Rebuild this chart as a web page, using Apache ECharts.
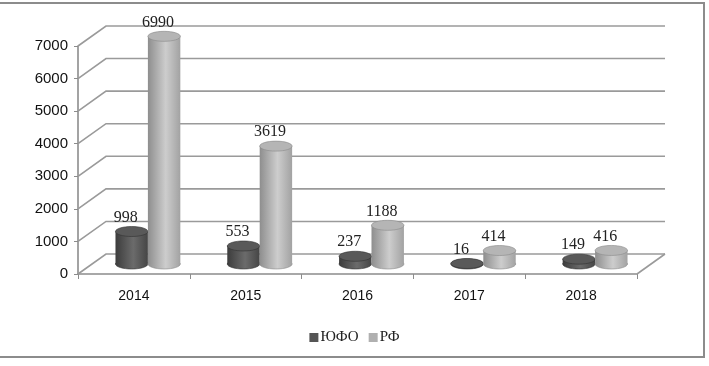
<!DOCTYPE html>
<html>
<head>
<meta charset="utf-8">
<script src="https://cdn.jsdelivr.net/npm/echarts@6/dist/echarts.min.js"></script>
<style>
  html, body { margin: 0; padding: 0; background: #fff; }
  #container { width: 709px; height: 366px; }
</style>
</head>
<body>
<div id="container"></div>
<script>
var years = ['2014', '2015', '2016', '2017', '2018'];
var ufoValues = [998, 553, 237, 16, 149];
var rfValues = [6990, 3619, 1188, 414, 416];
var yTicks = [0, 1000, 2000, 3000, 4000, 5000, 6000, 7000];

// depth of the fake 3d floor
var DX = 28, DY = -20;
var serif = '"Liberation Serif", "Times New Roman", serif';

function cylinder(side, dark) {
  return function (params, api) {
    var cat = api.value(0), val = api.value(1);
    var top = api.coord([cat, val]);
    var base = api.coord([cat, 0]);
    var band = api.size([1, 0])[0];
    var w = band * 0.29;
    var rx = w / 2, ry = 5;
    var cx = top[0] + DX / 2 + side * w / 2;
    var ty = top[1] + DY / 2;
    var by = base[1] + DY / 2;
    var body = new echarts.graphic.LinearGradient(0, 0, 1, 0, dark ? [
      { offset: 0, color: '#3c3c3c' },
      { offset: 0.55, color: '#6b6b6b' },
      { offset: 1, color: '#454545' }
    ] : [
      { offset: 0, color: '#8e8e8e' },
      { offset: 0.55, color: '#cdcdcd' },
      { offset: 1, color: '#a2a2a2' }
    ]);
    var stroke = dark ? '#333' : '#8a8a8a';
    return {
      type: 'group',
      children: [
        { type: 'ellipse', shape: { cx: cx, cy: by, rx: rx, ry: ry },
          style: { fill: body, stroke: stroke, lineWidth: 0.6 } },
        { type: 'rect', shape: { x: cx - rx, y: ty, width: w, height: by - ty },
          style: { fill: body } },
        { type: 'ellipse', shape: { cx: cx, cy: ty, rx: rx, ry: ry },
          style: { fill: dark ? '#595959' : '#b5b5b5', stroke: stroke, lineWidth: 0.6 } },
        { type: 'text', style: { text: String(val), x: cx - 6, y: ty - ry - 1,
          align: 'center', verticalAlign: 'bottom', fill: '#222', font: '16px ' + serif } }
      ]
    };
  };
}

function wall(params, api) {
  var v = api.value(0);
  var cs = params.coordSys;
  var x0 = cs.x, x1 = cs.x + cs.width;
  var y = api.coord([0, v])[1];
  var kids = [{
    type: 'polyline',
    shape: { points: [[x0, y], [x0 + DX, y + DY], [x1 + DX, y + DY]] },
    style: { stroke: '#9a9a9a', lineWidth: 1.6, fill: null }
  }];
  if (v === 0) {
    kids.push({ type: 'line', shape: { x1: x1, y1: y, x2: x1 + DX, y2: y + DY },
      style: { stroke: '#9a9a9a', lineWidth: 1.6 } });
  }
  return { type: 'group', children: kids };
}

var myChart = echarts.init(document.getElementById('container'));
var option = {
  backgroundColor: '#fff',
  animation: false,
  graphic: [{
    type: 'rect', shape: { x: -3, y: 3, width: 707, height: 354 },
    style: { fill: null, stroke: '#8c8c8c', lineWidth: 2 }, silent: true
  }],
  legend: {
    left: 'center', top: 325, itemWidth: 9, itemHeight: 9, itemGap: 10,
    textStyle: { fontFamily: serif, fontSize: 15, color: '#222', padding: [0, 0, 0, -3] },
    data: [
      { name: 'ЮФО', icon: 'rect', itemStyle: { color: '#555' } },
      { name: 'РФ', icon: 'rect', itemStyle: { color: '#b0b0b0' } }
    ]
  },
  grid: { left: 78, right: 72, top: 46, bottom: 92 },
  xAxis: {
    type: 'category', data: years,
    axisLine: { lineStyle: { color: '#8c8c8c', width: 1.6 } },
    axisTick: { show: true, length: 5, lineStyle: { color: '#8c8c8c' } },
    axisLabel: { color: '#111', fontSize: 14, fontFamily: 'Liberation Sans', margin: 15 }
  },
  yAxis: {
    type: 'value', min: 0, max: 7000, interval: 1000,
    axisLine: { show: true, lineStyle: { color: '#8c8c8c', width: 1.6 } },
    axisTick: { show: true, length: 4, lineStyle: { color: '#8c8c8c' } },
    splitLine: { show: false },
    axisLabel: { color: '#111', fontSize: 15, fontFamily: 'Liberation Sans', margin: 10,
      formatter: function (v) { return String(v); } }
  },
  series: [
    { type: 'custom', name: 'wall', renderItem: wall, silent: true, z: 1,
      data: yTicks.map(function (t) { return [t]; }) },
    { type: 'custom', name: 'ЮФО', renderItem: cylinder(-1, true), z: 2,
      itemStyle: { color: '#555' },
      data: ufoValues.map(function (v, i) { return [i, v]; }) },
    { type: 'custom', name: 'РФ', renderItem: cylinder(1, false), z: 3,
      itemStyle: { color: '#b0b0b0' },
      data: rfValues.map(function (v, i) { return [i, v]; }) }
  ]
};
myChart.setOption(option);
</script>
</body>
</html>
